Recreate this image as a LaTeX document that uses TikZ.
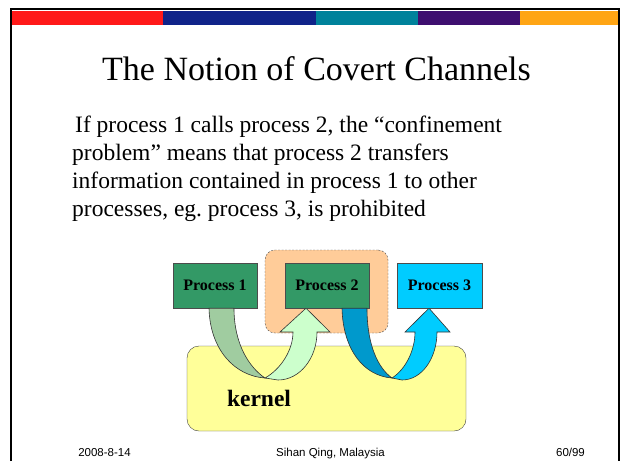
\documentclass[tikz,border=0pt]{standalone}
\usepackage{fontspec}
\setmainfont{Liberation Serif}
\setsansfont{Liberation Sans}
\usetikzlibrary{positioning,calc}

\definecolor{barred}{RGB}{255,25,25}
\definecolor{barblue}{RGB}{16,35,137}
\definecolor{barteal}{RGB}{0,130,155}
\definecolor{barpurple}{RGB}{62,15,112}
\definecolor{barorange}{RGB}{255,165,20}
\definecolor{procgreen}{RGB}{51,153,102}
\definecolor{proccyan}{RGB}{0,204,255}
\definecolor{confinedorange}{RGB}{255,204,153}
\definecolor{kernelyellow}{RGB}{255,255,153}
\definecolor{greendark}{RGB}{160,204,160}
\definecolor{greenlight}{RGB}{204,255,204}
\definecolor{bluedark}{RGB}{0,153,204}
\definecolor{bluelight}{RGB}{0,204,255}

\begin{document}
\begin{tikzpicture}[x=1pt,y=-1pt]
\useasboundingbox (0,0) rectangle (621,461);

% Slide frame and colour bar
\fill[barred] (12,10.5) rectangle (163,25);
\fill[barblue] (163,10.5) rectangle (316,25);
\fill[barteal] (316,10.5) rectangle (418,25);
\fill[barpurple] (418,10.5) rectangle (520,25);
\fill[barorange] (520,10.5) rectangle (618,25);
\draw[line width=2.5pt] (11,461) -- (11,9) -- (619,9) -- (619,461);

% Title
\node [anchor=base,
	font=\fontsize{34}{40}\selectfont
] (title) at (316.5, 80) {The Notion of Covert Channels};

% Text
\node [anchor=north west,
	align=left,
	inner sep=0pt,
	font=\fontsize{23.5}{28}\selectfont
] (problem_text) at (72, 115.6) {
\hspace{3pt}If process 1 calls process 2, the “confinement\\
problem” means that process 2 transfers\\
information contained in process 1 to other\\
processes, eg.\ process 3, is prohibited
};

% Confined area
\node [draw=black!70,
	dash pattern=on 2pt off 1.5pt,
	rounded corners=10pt,
	fill=confinedorange,
	minimum width=123pt,
	minimum height=83pt
] (confined) at (326.5, 291.5) {};

% Process 1
\node [draw=black!70,
	fill=procgreen,
	minimum width=84pt,
	minimum height=45pt,
	font=\fontsize{16}{18}\selectfont\bfseries
] (process_1) at (215, 285.5) {Process 1};

% Process 2
\node [draw=black!70,
	fill=procgreen,
	minimum width=84pt,
	minimum height=45pt,
	font=\fontsize{16}{18}\selectfont\bfseries
] (process_2) at (327, 285.5) {Process 2};

% Process 3
\node [draw=black!70,
	fill=proccyan,
	minimum width=85pt,
	minimum height=45pt,
	font=\fontsize{16}{18}\selectfont\bfseries
] (process_3) at (439.5, 285.5) {Process 3};

% Kernel
\node [draw=black!75,
	rounded corners=12pt,
	fill=kernelyellow,
	minimum width=279pt,
	minimum height=85pt
] (kernel) at (326.5, 388.5) {};

\node [anchor=base,
	font=\fontsize{23.5}{28}\selectfont\bfseries
] (kernel_label) at (259, 406) {kernel};

% Arrow process 1 -> process 2
\filldraw[draw=black!80, fill=greendark, line width=0.6pt]
	($(process_1.south)+(-6,0)$) .. controls (210,350) and (235,376) .. (265,378)
	.. controls (250,368) and (234,345) .. ($(process_1.south)+(19,0)$) -- cycle;
\filldraw[draw=black!80, fill=greenlight, line width=0.6pt]
	(265,378) .. controls (281,369) and (293,350) .. (293,332) -- (280,332)
	-- ($(process_2.south)+(-21,0)$) -- (330,332) -- (317,332)
	.. controls (317,358) and (300,380) .. (278,380) -- cycle;

% Arrow process 2 -> process 3
\filldraw[draw=black!80, fill=bluedark, line width=0.6pt]
	($(process_2.south)+(15,0)$) .. controls (343,350) and (364,376) .. (392,378)
	.. controls (378,368) and (367,345) .. ($(process_2.south)+(40,0)$) -- cycle;
\filldraw[draw=black!80, fill=bluelight, line width=0.6pt]
	(392,378) .. controls (406,369) and (415,350) .. (415,332) -- (405,332)
	-- ($(process_3.south)+(-10.5,0)$) -- (450,332) -- (437,332)
	.. controls (437,358) and (422,380) .. (402,380) -- cycle;

% Footer
\node [anchor=base, font=\sffamily\fontsize{11.5}{13}\selectfont] (date) at (104.5, 456) {2008-8-14};
\node [anchor=base, font=\sffamily\fontsize{11.5}{13}\selectfont] (author) at (330.5, 456) {Sihan Qing, Malaysia};
\node [anchor=base, font=\sffamily\fontsize{11.5}{13}\selectfont] (page) at (570.5, 456) {60/99};

\end{tikzpicture}
\end{document}
